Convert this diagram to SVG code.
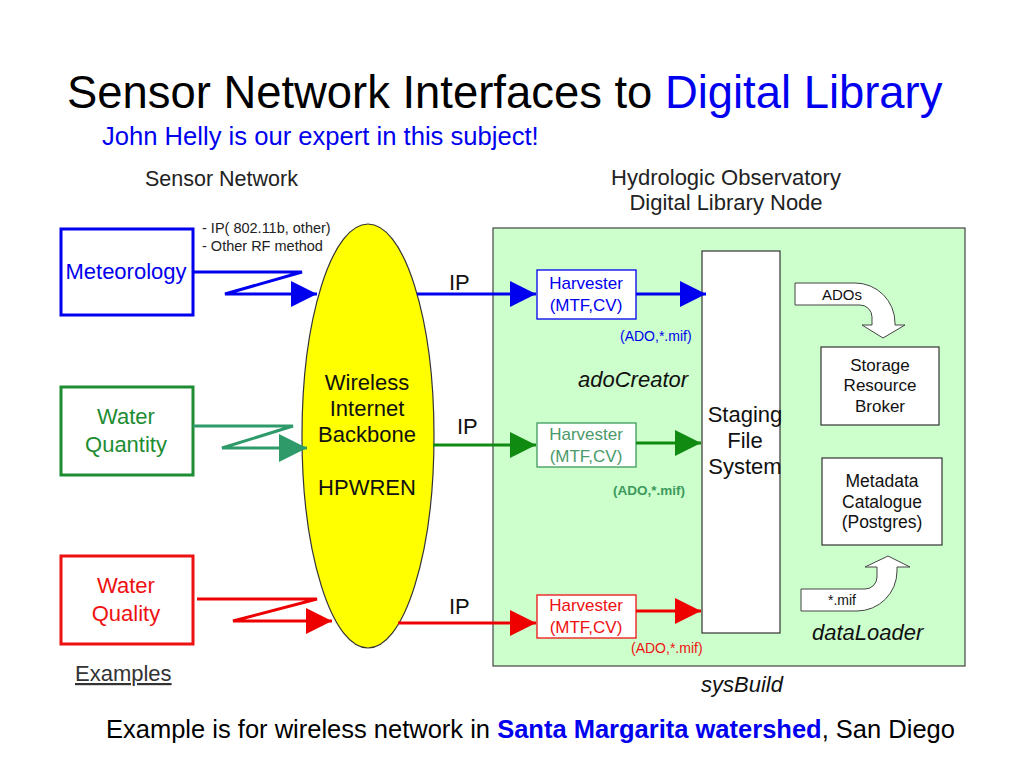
<svg xmlns="http://www.w3.org/2000/svg" width="1024" height="768" viewBox="0 0 1024 768">
<style>
text{font-family:"Liberation Sans",Arial,sans-serif}
.c{text-anchor:middle}
.it{font-style:italic;font-size:22px;fill:#111}
.box{fill:#fff;stroke:#333;stroke-width:1.2}
.ln{fill:none;stroke-width:3}
.hv{fill:#fff;stroke-width:1.3}
</style>
<defs>
<marker id="aB" markerUnits="userSpaceOnUse" markerWidth="26" markerHeight="26" refX="26" refY="13" orient="auto"><path d="M0,0 L26,13 L0,26 z" fill="#0000ee"/></marker>
<marker id="aT" markerUnits="userSpaceOnUse" markerWidth="28" markerHeight="28" refX="28" refY="14" orient="auto"><path d="M0,0 L28,14 L0,28 z" fill="#2e9a6a"/></marker>
<marker id="aG" markerUnits="userSpaceOnUse" markerWidth="26" markerHeight="26" refX="26" refY="13" orient="auto"><path d="M0,0 L26,13 L0,26 z" fill="#118a11"/></marker>
<marker id="aR" markerUnits="userSpaceOnUse" markerWidth="26" markerHeight="26" refX="26" refY="13" orient="auto"><path d="M0,0 L26,13 L0,26 z" fill="#ee0000"/></marker>
</defs>
<rect width="1024" height="768" fill="#fff"/>

<text x="67" y="108" font-size="45.4" fill="#000">Sensor Network Interfaces to <tspan fill="#0000ee">Digital Library</tspan></text>
<text x="102" y="145" font-size="25.6" fill="#0000ee">John Helly is our expert in this subject!</text>
<text x="145" y="186" font-size="21.5" fill="#222">Sensor Network</text>
<text x="726" y="185" font-size="22" fill="#222" class="c">Hydrologic Observatory</text>
<text x="726" y="210" font-size="22" fill="#222" class="c">Digital Library Node</text>

<g id="library-node">
<rect x="493" y="228" width="472" height="438" fill="#ccffcc" stroke="#444" stroke-width="1.2"/>
<text x="578" y="387" class="it">adoCreator</text>
<text x="812" y="640" class="it">dataLoader</text>
</g>
<text x="701" y="692" class="it">sysBuild</text>

<g id="meteorology">
<rect x="61" y="229" width="132" height="86" fill="#fff" stroke="#0000ee" stroke-width="3"/>
<text x="126" y="279" font-size="22" fill="#0000ee" class="c">Meteorology</text>
</g>
<g id="water-quantity">
<rect x="61" y="387" width="132" height="88" fill="#fff" stroke="#1e8c32" stroke-width="3"/>
<text x="126" y="424" font-size="22" fill="#1e8c32" class="c">Water</text>
<text x="126" y="452" font-size="22" fill="#1e8c32" class="c">Quantity</text>
</g>
<g id="water-quality">
<rect x="61" y="556" width="132" height="88" fill="#fff" stroke="#ee1111" stroke-width="3"/>
<text x="126" y="593" font-size="22" fill="#ee1111" class="c">Water</text>
<text x="126" y="621" font-size="22" fill="#ee1111" class="c">Quality</text>
</g>
<text x="75" y="681" font-size="22" fill="#333" text-decoration="underline">Examples</text>
<text x="202" y="233" font-size="14.5" fill="#222">- IP( 802.11b, other)</text>
<text x="202" y="251" font-size="14.5" fill="#222">- Other RF method</text>

<g id="backbone">
<ellipse cx="368" cy="436" rx="66" ry="212" fill="#ffff00" stroke="#333" stroke-width="1.2"/>
<text x="367" y="390" font-size="22" fill="#111" class="c">Wireless</text>
<text x="367" y="416" font-size="22" fill="#111" class="c">Internet</text>
<text x="367" y="442" font-size="22" fill="#111" class="c">Backbone</text>
<text x="367" y="495" font-size="22" fill="#111" class="c">HPWREN</text>
</g>

<g id="staging">
<rect x="702" y="251" width="78" height="382" class="box"/>
<text x="745" y="422" font-size="22" fill="#111" class="c">Staging</text>
<text x="745" y="448" font-size="22" fill="#111" class="c">File</text>
<text x="745" y="474" font-size="22" fill="#111" class="c">System</text>
</g>

<g id="harvester-1">
<rect x="537" y="270" width="99" height="49" class="hv" stroke="#0000ee"/>
<text x="586" y="289" font-size="17" fill="#0000ee" class="c">Harvester</text>
<text x="586" y="311" font-size="17" fill="#0000ee" class="c">(MTF,CV)</text>
</g>
<g id="harvester-2">
<rect x="537" y="423" width="99" height="44" class="hv" stroke="#3c9a5c"/>
<text x="586" y="440" font-size="17" fill="#4a9a6a" class="c">Harvester</text>
<text x="586" y="462" font-size="17" fill="#4a9a6a" class="c">(MTF,CV)</text>
</g>
<g id="harvester-3">
<rect x="537" y="595" width="99" height="43" class="hv" stroke="#ee1111"/>
<text x="586" y="611" font-size="17" fill="#ee1111" class="c">Harvester</text>
<text x="586" y="633" font-size="17" fill="#ee1111" class="c">(MTF,CV)</text>
</g>
<text x="620" y="341" font-size="14" fill="#0000ee">(ADO,*.mif)</text>
<text x="613" y="495" font-size="13.5" font-weight="bold" fill="#3c9a5c">(ADO,*.mif)</text>
<text x="631" y="653" font-size="14" fill="#ee1111">(ADO,*.mif)</text>

<g id="srb">
<rect x="821" y="347" width="118" height="78" class="box"/>
<text x="880" y="371" font-size="17" fill="#111" class="c">Storage</text>
<text x="880" y="391" font-size="17" fill="#111" class="c">Resource</text>
<text x="880" y="412" font-size="17" fill="#111" class="c">Broker</text>
</g>
<g id="metadata">
<rect x="822" y="458" width="120" height="87" class="box"/>
<text x="882" y="487" font-size="17.5" fill="#111" class="c">Metadata</text>
<text x="882" y="508" font-size="17.5" fill="#111" class="c">Catalogue</text>
<text x="882" y="528" font-size="17.5" fill="#111" class="c">(Postgres)</text>
</g>

<g id="connectors">
<polyline class="ln" stroke="#0000ee" points="193,272 302,272 225,294 317,294" marker-end="url(#aB)"/>
<polyline class="ln" stroke="#2e9a6a" points="193,426 293,426 222,448 307,448" marker-end="url(#aT)"/>
<polyline class="ln" stroke="#ee0000" points="197,599 317,599 233,621 332,621" marker-end="url(#aR)"/>
<line class="ln" stroke="#0000ee" x1="417" y1="294" x2="536" y2="294" marker-end="url(#aB)"/>
<line class="ln" stroke="#118a11" x1="433" y1="445" x2="536" y2="445" marker-end="url(#aG)"/>
<line class="ln" stroke="#ee0000" x1="398" y1="623" x2="536" y2="623" marker-end="url(#aR)"/>
<line class="ln" stroke="#0000ee" x1="636" y1="294" x2="706" y2="294" marker-end="url(#aB)"/>
<line class="ln" stroke="#118a11" x1="636" y1="443" x2="701" y2="443" marker-end="url(#aG)"/>
<line class="ln" stroke="#ee0000" x1="636" y1="611" x2="701" y2="611" marker-end="url(#aR)"/>
<path d="M795,283 L855,283 A40,40 0 0 1 895,323 L895,325 L905,325 L883,338 L862,325 L872,325 L872,317 A12,12 0 0 0 860,305 L795,305 Z" fill="#fff" stroke="#444" stroke-width="1"/>
<text x="822" y="300" font-size="15" fill="#111">ADOs</text>
<path d="M801,589 L865,589 A12,12 0 0 0 877,577 L877,567 L865,567 L888,556 L910,567 L897,567 L897,571 A40,40 0 0 1 857,611 L801,611 Z" fill="#fff" stroke="#444" stroke-width="1"/>
<text x="828" y="605" font-size="14" fill="#111">*.mif</text>
</g>

<text x="449" y="290" font-size="22" fill="#111">IP</text>
<text x="457" y="434" font-size="22" fill="#111">IP</text>
<text x="449" y="614" font-size="22" fill="#111">IP</text>

<text x="106" y="738" font-size="25.5" fill="#000">Example is for wireless network in <tspan fill="#0000ee" font-weight="bold">Santa Margarita watershed</tspan>, San Diego</text>
</svg>
